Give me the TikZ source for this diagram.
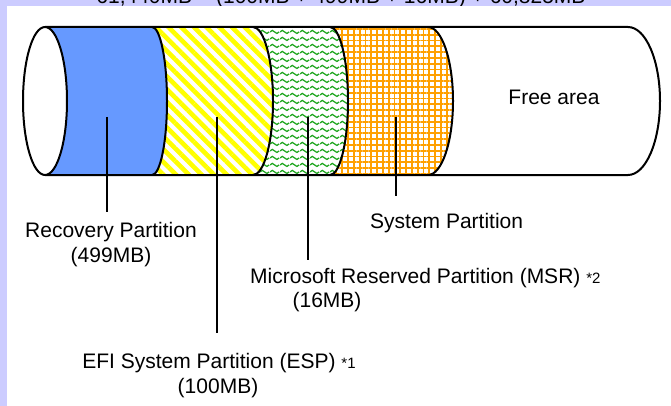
\documentclass[tikz,border=0pt]{standalone}
\usepackage{fontspec}
\setmainfont{Liberation Sans}
\usetikzlibrary{patterns,patterns.meta}
\definecolor{lav}{RGB}{204,204,255}
\definecolor{recblue}{RGB}{102,153,255}
\definecolor{espyel}{RGB}{255,255,0}
\definecolor{msrgreen}{RGB}{30,165,30}
\definecolor{sysorange}{RGB}{255,160,0}

\pgfdeclarepattern{
  name=MyWaves,
  type=uncolored,
  bottom left={\pgfpoint{0pt}{0pt}},
  top right={\pgfpoint{10pt}{7pt}},
  tile size={\pgfpoint{10pt}{7pt}},
  code={
    \pgfsetlinewidth{1.4pt}
    \pgfpathmoveto{\pgfpoint{0pt}{3.5pt}}
    \pgfpathsine{\pgfpoint{2.5pt}{1.7pt}}
    \pgfpathcosine{\pgfpoint{2.5pt}{-1.7pt}}
    \pgfpathsine{\pgfpoint{2.5pt}{-1.7pt}}
    \pgfpathcosine{\pgfpoint{2.5pt}{1.7pt}}
    \pgfusepath{stroke}
  }
}

\tikzset{
  outl/.style={line width=2pt, draw=black, line join=round},
  leader/.style={line width=1.8pt, draw=black},
  lbl/.style={font=\fontsize{21pt}{25pt}\selectfont, inner sep=0pt, text=black},
}

\begin{document}
\begin{tikzpicture}[x=1pt,y=-1pt]
\useasboundingbox (0,0) rectangle (671,406);
\fill[lav] (0,0) rectangle (671,406);
\fill[white] (7,6) rectangle (671,406);

% total-size line, cut off by the top edge as in the reference
\begin{scope}
  \clip (0,0) rectangle (671,6);
  \node[lbl, anchor=base] (total) at (341,4) {61,440MB = (100MB + 499MB + 16MB) + 60,825MB};
\end{scope}

% bands
\fill[recblue] (45,27) -- (152,27) arc[start angle=-90, end angle=90, x radius=15, y radius=74]
  -- (45,175) arc[start angle=90, end angle=-90, x radius=22, y radius=74] -- cycle;
\fill[pattern={Lines[angle=-45, distance=9pt, line width=4.6pt]}, pattern color=espyel]
  (152,27) -- (253,27) arc[start angle=-90, end angle=90, x radius=20, y radius=74]
  -- (152,175) arc[start angle=90, end angle=-90, x radius=15, y radius=74] -- cycle;
\fill[pattern=MyWaves, pattern color=msrgreen]
  (253,27) -- (330,27) arc[start angle=-90, end angle=90, x radius=18, y radius=74]
  -- (253,175) arc[start angle=90, end angle=-90, x radius=20, y radius=74] -- cycle;
\fill[pattern={Hatch[angle=0, distance=5.8pt, line width=1.8pt]}, pattern color=sysorange]
  (330,27) -- (428,27) arc[start angle=-90, end angle=90, x radius=25, y radius=74]
  -- (330,175) arc[start angle=90, end angle=-90, x radius=18, y radius=74] -- cycle;

% outline of the cylinder
\draw[outl] (45,27) -- (628,27) arc[start angle=-90, end angle=90, x radius=32, y radius=74] -- (45,175);
\draw[outl, fill=white] (45,101) ellipse[x radius=22, y radius=74];
\draw[outl] (152,27) arc[start angle=-90, end angle=90, x radius=15, y radius=74];
\draw[outl] (253,27) arc[start angle=-90, end angle=90, x radius=20, y radius=74];
\draw[outl] (330,27) arc[start angle=-90, end angle=90, x radius=18, y radius=74];
\draw[outl] (428,27) arc[start angle=-90, end angle=90, x radius=25, y radius=74];

% labels
\node[lbl, anchor=base] (free) at (554,105) {Free area};
\node[lbl, anchor=base] (recl1) at (111,237) {Recovery Partition};
\node[lbl, anchor=base] (recl2) at (111,262) {(499MB)};
\node[lbl, anchor=base] (espl1) at (219,368) {EFI System Partition (ESP) {\fontsize{15pt}{17pt}\selectfont *1}};
\node[lbl, anchor=base] (espl2) at (218,393) {(100MB)};
\node[lbl, anchor=base west] (msrl1) at (250,283) {Microsoft Reserved Partition (MSR) {\fontsize{15pt}{17pt}\selectfont *2}};
\node[lbl, anchor=base] (msrl2) at (327,307) {(16MB)};
\node[lbl, anchor=base west] (sysl) at (370,228) {System Partition};

% leader lines
\coordinate (recA) at (107,117);
\coordinate (recB) at (107,212);
\coordinate (espA) at (217,117);
\coordinate (espB) at (217,333);
\coordinate (msrA) at (308,117);
\coordinate (msrB) at (308,260);
\coordinate (sysA) at (396,117);
\coordinate (sysB) at (396,196);
\draw[leader] (recA) -- (recB);
\draw[leader] (espA) -- (espB);
\draw[leader] (msrA) -- (msrB);
\draw[leader] (sysA) -- (sysB);
\end{tikzpicture}
\end{document}
